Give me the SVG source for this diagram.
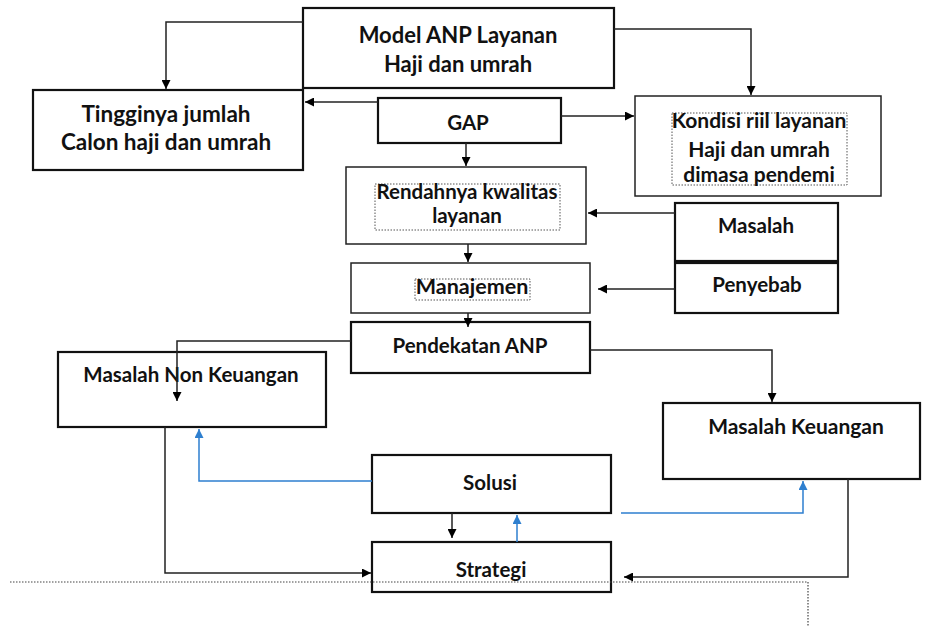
<svg xmlns="http://www.w3.org/2000/svg" width="926" height="627" viewBox="0 0 926 627">
<defs>
<marker id="ah" viewBox="0 0 10 10" refX="10" refY="5" markerWidth="9" markerHeight="9" markerUnits="userSpaceOnUse" orient="auto"><path d="M0,0 L10,5 L0,10 z" fill="#000"/></marker>
<marker id="ahb" viewBox="0 0 10 10" refX="10" refY="5" markerWidth="9" markerHeight="9" markerUnits="userSpaceOnUse" orient="auto"><path d="M0,0 L10,5 L0,10 z" fill="#2e7fcf"/></marker>
<style>
.bd{fill:#fff;stroke:#111;stroke-width:2.2}
.bs{fill:#fff;stroke:#222;stroke-width:1.5}
.in{fill:none;stroke:#555;stroke-width:1;stroke-dasharray:1.5 1.5}
.t{font-family:Lato,"Liberation Sans",sans-serif;font-weight:bold;fill:#111;text-anchor:middle;font-size:20.5px}
.c{fill:none;stroke:#222;stroke-width:1.5}
.cb{fill:none;stroke:#2e7fcf;stroke-width:1.5}
.dl{fill:none;stroke:#444;stroke-width:1.2;stroke-dasharray:1.5 1.5}
</style>
</defs>
<rect width="926" height="627" fill="#fff"/>
<g id="model"><rect class="bd" x="303" y="8" width="311" height="80"/><text class="t" style="font-size:22px" x="458" y="43">Model ANP Layanan</text><text class="t" style="font-size:22px" x="458" y="72">Haji dan umrah</text></g>
<g id="tingginya"><rect class="bd" x="33" y="90" width="270" height="80"/><text class="t" style="font-size:22.5px" x="166" y="122">Tingginya jumlah</text><text class="t" style="font-size:22.5px" x="166" y="150">Calon haji dan umrah</text></g>
<g id="gap"><rect class="bd" x="378" y="98" width="183" height="45"/><text class="t" x="468" y="130">GAP</text></g>
<g id="kondisi"><rect class="bs" x="635" y="96" width="246" height="100"/><rect class="in" x="672" y="113" width="175" height="72"/><text class="t" style="font-size:21px" x="759" y="128">Kondisi riil layanan</text><text class="t" style="font-size:21px" x="759" y="157">Haji dan umrah</text><text class="t" style="font-size:21px" x="759" y="182">dimasa pendemi</text></g>
<g id="rendahnya"><rect class="bs" x="346" y="167" width="240" height="77"/><rect class="in" x="375" y="184" width="185" height="46"/><text class="t" x="467" y="199">Rendahnya kwalitas</text><text class="t" x="467" y="223">layanan</text></g>
<g id="masalah"><rect class="bd" x="675" y="203" width="163" height="58"/><text class="t" x="756" y="233">Masalah</text></g>
<g id="penyebab"><rect class="bd" x="675" y="263" width="163" height="50"/><text class="t" x="757" y="292">Penyebab</text></g>
<g id="manajemen"><rect class="bs" x="351" y="263" width="239" height="50"/><rect class="in" x="415" y="279" width="115" height="21"/><text class="t" style="font-size:21.5px" x="472" y="294">Manajemen</text></g>
<g id="pendekatan"><rect class="bd" x="351" y="322" width="239" height="51"/><text class="t" x="470" y="353">Pendekatan ANP</text></g>
<g id="nonkeuangan"><rect class="bd" x="58" y="352" width="268" height="75"/><text class="t" x="191" y="382">Masalah Non Keuangan</text></g>
<g id="keuangan"><rect class="bd" x="663" y="403" width="257" height="76"/><text class="t" style="font-size:21px" x="796" y="434">Masalah  Keuangan</text></g>
<g id="solusi"><rect class="bd" x="372" y="455" width="239" height="58"/><text class="t" x="490" y="490">Solusi</text></g>
<g id="strategi"><rect class="bd" x="372" y="542" width="239" height="50"/><text class="t" x="491" y="577">Strategi</text></g>
<g id="connectors">
<path class="c" d="M303,22 H166 V89" marker-end="url(#ah)"/>
<path class="c" d="M614,29 H751 V95" marker-end="url(#ah)"/>
<path class="c" d="M378,102 H305" marker-end="url(#ah)"/>
<path class="c" d="M561,116 H634" marker-end="url(#ah)"/>
<path class="c" d="M466,143 V166" marker-end="url(#ah)"/>
<path class="c" d="M675,213 H588" marker-end="url(#ah)"/>
<path class="c" d="M675,289 H598" marker-end="url(#ah)"/>
<path class="c" d="M468,244 V262" marker-end="url(#ah)"/>
<path class="c" d="M468,313 V327" marker-end="url(#ah)"/>
<path class="c" d="M351,341 H177 V401" marker-end="url(#ah)"/>
<path class="c" d="M590,350 H772 V402" marker-end="url(#ah)"/>
<path class="c" d="M165,427 V573 H371" marker-end="url(#ah)"/>
<path class="c" d="M452,513 V538" marker-end="url(#ah)"/>
<path class="c" d="M848,479 V577 H624" marker-end="url(#ah)"/>
<path class="cb" d="M372,481 H199 V429" marker-end="url(#ahb)"/>
<path class="cb" d="M517,542 V515" marker-end="url(#ahb)"/>
<path class="cb" d="M621,513 H803 V481" marker-end="url(#ahb)"/>
</g>
<path class="dl" d="M10,582 H808 V627"/>
</svg>
